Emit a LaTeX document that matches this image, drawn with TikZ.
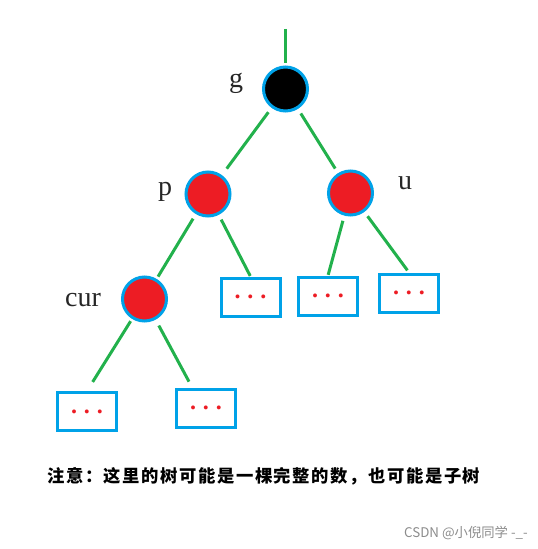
\documentclass[tikz,border=0pt]{standalone}
\usepackage{fontspec}
\setmainfont{Liberation Serif}
\newfontfamily\cjk[LetterSpace=9]{Noto Sans CJK SC}
\newfontfamily\cjkmark{Noto Sans CJK SC}
\definecolor{paintgreen}{RGB}{34,177,76}
\definecolor{paintblue}{RGB}{0,162,232}
\definecolor{paintred}{RGB}{237,28,36}
\newcommand{\paintdots}{\textcolor{paintred}{\fontsize{18}{18}\selectfont\bfseries .\hspace{5.25pt}.\hspace{5.25pt}.}}

\begin{document}
\begin{tikzpicture}[x=0.75pt, y=-0.75pt, font=\fontsize{21}{21}\selectfont]
    \tikzstyle{node_black} = [draw=paintblue, line width=2.25pt, circle, fill=black, minimum size=33pt, inner sep=0pt]
    \tikzstyle{node_red} = [node_black, fill=paintred]
    \tikzstyle{node_box} = [draw=paintblue, line width=2.25pt, rectangle, fill=white, minimum width=44.25pt, minimum height=28.5pt, inner sep=0pt]
    \tikzstyle{line_green} = [paintgreen, line width=2.25pt, shorten <=4pt]
    \tikzstyle{node_label} = [draw=none, inner sep=0pt, text=black!85]

    \useasboundingbox (0,0) rectangle (537,549);

    \coordinate (gtop) at (285.5,29);
    \node[node_black] (ng) at (285.5,89) {};
    \node[node_red] (np) at (208,194) {};
    \node[node_red] (nu) at (350.5,193) {};
    \node[node_red] (ncur) at (144.5,299) {};

    \node[node_box] (nb1) at (250.5,297) {\paintdots};
    \node[node_box] (nb2) at (328,296) {\paintdots};
    \node[node_box] (nb3) at (409,293) {\paintdots};
    \node[node_box] (nb4) at (87,411.5) {\paintdots};
    \node[node_box] (nb5) at (206,408) {\paintdots};

    \draw[line_green, shorten <=0pt, shorten >=1.5pt] (gtop) -- (ng);
    \draw[line_green, shorten >=6pt] (ng) -- (np);
    \draw[line_green, shorten >=4pt] (ng) -- (nu);
    \draw[line_green, shorten >=2pt] (np) -- (ncur);
    \draw[line_green, shorten >=0.5pt] (np) -- (nb1.north);
    \draw[line_green, shorten >=0.5pt] (nu) -- (nb2.north);
    \draw[line_green, shorten >=2pt] (nu) -- (nb3.north);
    \draw[line_green, shorten <=2pt, shorten >=8pt] (ncur) -- (nb4.north);
    \draw[line_green, shorten <=5pt, shorten >=5pt] (ncur) -- (nb5.124);

    \node[node_label] at (236,83) {g};
    \node[node_label] at (165,192) {p};
    \node[node_label] at (405,183) {u};
    \node[node_label] at (83,300) {cur};

    \node[node_label, text=black, anchor=west, font=\cjk\bfseries\fontsize{13}{13}\selectfont] at (47,476) {注意：这里的树可能是一棵完整的数，也可能是子树};
    \node[node_label, anchor=east, text=black!45, font=\cjkmark\fontsize{10}{10}\selectfont] at (528,533) {CSDN @小倪同学 -\_-};
\end{tikzpicture}
\end{document}
